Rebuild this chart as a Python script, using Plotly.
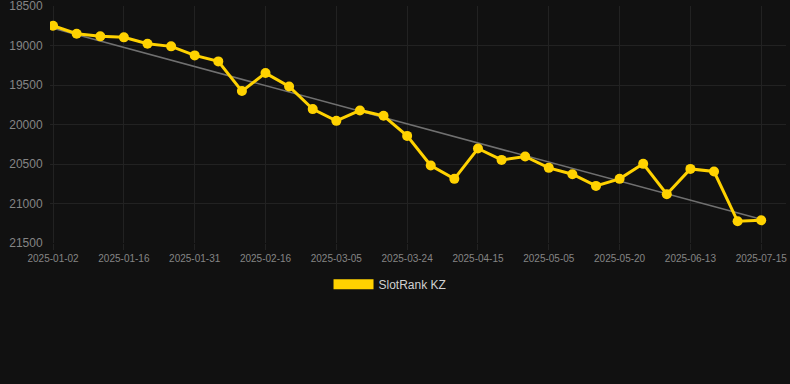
import numpy as np
import plotly.graph_objects as go

dates = ["2025-01-02", "2025-01-06", "2025-01-11", "2025-01-16", "2025-01-21", "2025-01-26",
         "2025-01-31", "2025-02-05", "2025-02-11", "2025-02-16", "2025-02-21", "2025-02-27",
         "2025-03-05", "2025-03-11", "2025-03-17", "2025-03-24", "2025-03-31", "2025-04-08",
         "2025-04-15", "2025-04-22", "2025-04-28", "2025-05-05", "2025-05-10", "2025-05-15",
         "2025-05-20", "2025-05-28", "2025-06-05", "2025-06-13", "2025-06-24", "2025-07-04",
         "2025-07-15"]
rank = [18750, 18851, 18884, 18897, 18977, 19011, 19125, 19201, 19577, 19349, 19518,
        19805, 19954, 19822, 19890, 20144, 20519, 20688, 20304, 20448, 20405, 20549,
        20629, 20777, 20688, 20498, 20883, 20562, 20595, 21225, 21212]
tick_labels = dates[::3]
y_ticks = [18500, 19000, 19500, 20000, 20500, 21000, 21500]
series_name = "SlotRank KZ"

idx = np.arange(len(rank))
slope, intercept = np.polyfit(idx, rank, 1)
trend = [float(intercept + slope * i) for i in (idx[0], idx[-1])]
trend_x = [dates[0], dates[-1]]

YELLOW = "#FFD200"
BG = "#111111"
GRID = "#222222"

fig = go.Figure()
fig.add_trace(go.Scatter(x=trend_x, y=trend, mode="lines",
                         line=dict(color="#707070", width=1.6),
                         showlegend=False, hoverinfo="skip"))
fig.add_trace(go.Scatter(x=dates, y=rank, mode="lines+markers",
                         line=dict(color=YELLOW, width=3),
                         marker=dict(color=YELLOW, size=10),
                         showlegend=False))
# legend proxy
fig.add_trace(go.Scatter(x=[None], y=[None], mode="lines", name=series_name,
                         line=dict(color=YELLOW, width=10)))

fig.update_layout(
    width=790, height=384,
    paper_bgcolor=BG, plot_bgcolor=BG,
    margin=dict(l=50, r=4, t=6, b=141),
    font=dict(family="Liberation Sans, Arial, sans-serif", color="#858585"),
    showlegend=True,
    legend=dict(orientation="h", xref="container", yref="container",
                x=0.4937, xanchor="center", y=0.26, yanchor="middle",
                itemwidth=40, font=dict(size=12, color="#d0d0d0"),
                bgcolor="rgba(0,0,0,0)"),
)
fig.update_xaxes(type="category", categoryorder="array", categoryarray=dates,
                 range=[-0.13, 31.05], automargin=False,
                 tickvals=tick_labels, ticktext=tick_labels,
                 tickfont=dict(size=10, color="#858585"),
                 showgrid=True, gridcolor=GRID, gridwidth=1,
                 ticks="outside", ticklen=6, tickcolor=GRID,
                 showline=False, zeroline=False, fixedrange=True)
fig.update_yaxes(range=[21500, 18500], tickvals=y_ticks, automargin=False,
                 ticktext=[str(v) for v in y_ticks],
                 tickfont=dict(size=12, color="#858585"),
                 ticklabeloverflow="allow",
                 showgrid=True, gridcolor=GRID, gridwidth=1,
                 ticks="outside", ticklen=4, tickcolor=BG,
                 showline=False, zeroline=False, fixedrange=True)

fig.write_html("out.html")
